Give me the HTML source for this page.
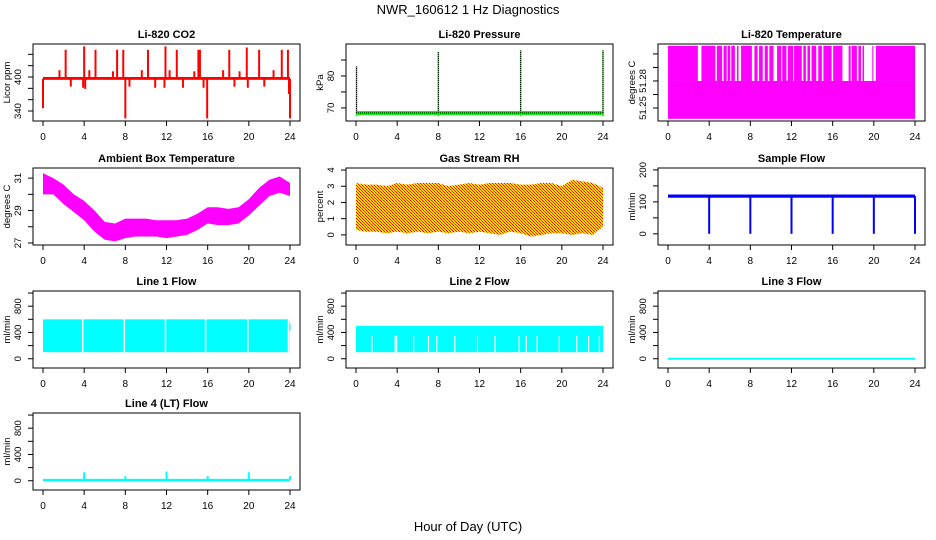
<!DOCTYPE html>
<html><head><meta charset="utf-8"><style>
html,body{margin:0;padding:0;background:#fff;}
svg{display:block;font-family:"Liberation Sans",sans-serif;}
</style></head><body>
<svg id="fig" width="936" height="540" viewBox="0 0 936 540">
<defs>
<pattern id="rhpat" width="3" height="3" patternUnits="userSpaceOnUse">
<rect width="3" height="3" fill="#ffdd00"/><rect width="1" height="1" fill="#ff0000"/><rect x="1" y="1" width="1" height="1" fill="#ff3300"/><rect x="2" y="2" width="1" height="1" fill="#ff0000"/>
</pattern>
</defs>
<text x="468" y="14" font-size="13" text-anchor="middle">NWR_160612  1 Hz Diagnostics</text>
<text x="468" y="531" font-size="13" text-anchor="middle">Hour of Day (UTC)</text>
</svg>
<script>
// ---------- data ----------
const hourTicks = [0,4,8,12,16,20,24];
const co2Base = 397;
const co2UpHours = [2.2,4.0,5.1,7.2,7.8,10.2,11.9,13.0,15.1,15.25,18.1,19.8,21.0,23.2,23.8,1.6,4.5,6.8,9.6,12.3,14.7,17.5,19.1,22.4];
const co2UpValues = [448,454,448,448,448,448,454,448,448,448,448,452,448,448,448,412,412,410,412,412,410,412,410,412];
const co2DownHours = [8.0,15.95,24.0,0.0,2.7,3.9,4.1,8.4,10.9,11.8,13.6,15.6,18.6,19.9,21.5,23.9];
const co2DownValues = [327,327,327,345,383,381,379,383,381,381,381,381,383,381,383,370];
const presBase = 68.4;
const presSpikeHours = [0.05,8.0,16.0,24.0];
const presSpikeValues = [83,87.5,88,88];
const tempLow = 51.238, tempMid = 51.28, tempHigh = 51.319;
const tempGapStart = [2.9,4.6,5.25,5.7,6.05,6.5,6.85,8.15,8.7,9.2,9.7,10.25,11.0,11.5,12.15,13.0,13.4,13.8,14.4,14.95,15.9,16.95,17.75,18.35,18.75,19.05,19.95];
const tempGapEnd   = [3.25,4.75,5.4,5.8,6.15,6.7,7.1,8.4,8.85,9.4,9.85,10.6,11.1,11.65,12.25,13.15,13.55,13.95,14.6,15.1,16.05,17.55,17.85,18.5,18.9,19.85,20.2];
const ambHours = [0,1,2,3,4,5,6,7,8,9,10,11,12,13,14,15,16,17,18,19,20,21,22,23,24];
const ambLow  = [30.0,30.0,29.4,28.9,28.4,27.7,27.2,27.1,27.3,27.4,27.4,27.4,27.3,27.4,27.5,27.8,28.2,28.1,28.1,28.2,28.7,29.3,29.9,30.1,29.9];
const ambHigh = [31.3,31.0,30.6,30.0,29.6,29.0,28.3,28.2,28.5,28.5,28.5,28.4,28.4,28.4,28.5,28.8,29.2,29.2,29.1,29.2,29.7,30.4,30.9,31.1,30.7];
const rhHours = [0,1,2,3,4,5,6,7,8,9,10,11,12,13,14,15,16,17,18,19,20,21,22,23,24];
const rhLow  = [0.3,0.2,0.2,0.1,0.2,0.1,0.2,0.1,0.2,0.1,0.2,0.1,0.2,0.1,0.0,0.2,0.1,-0.1,0.0,0.1,0.1,0.0,0.1,0.0,0.5];
const rhHigh = [3.2,3.1,3.1,3.0,3.2,3.1,3.2,3.2,3.2,3.0,3.1,3.2,3.1,3.2,3.2,3.2,3.1,3.1,3.2,3.2,3.0,3.4,3.3,3.2,2.9];
const sampleBase = 118;
const sampleDropHours = [4,8,12,16,20,24];
const sampleDropValues = [0,0,0,0,0,0];
const line1Low = 100, line1High = 600;
const line1GapHours = [3.86,7.9,11.9,15.8,19.9,23.85];
const line2Low = 100, line2High = 500;
const line2GapHours = [1.55,3.8,3.95,5.6,7.05,7.85,9.6,11.8,13.5,15.85,16.55,17.6,19.75,21.45,22.6,23.65];
const line3Value = 0;
const line4Base = 10;
const line4SpikeHours = [4,8,12,16,20,24];
const line4SpikeValues = [130,70,140,70,130,70];

// ---------- layout ----------
const svg = document.getElementById('fig');
const NS = 'http://www.w3.org/2000/svg';
const colLeft = [33,346,658], boxW = 267;
const rowTop = [44,168,291,413], boxH = 77;
function el(tag, attrs, parent){const e=document.createElementNS(NS,tag);for(const k in attrs)e.setAttribute(k,attrs[k]);(parent||svg).appendChild(e);return e;}

function panel(c, r, title, ylab, ymin, ymax, yticks, ylabels, name){
  const L=colLeft[c], T=rowTop[r], B=T+boxH;
  const g = el('g',{});
  
  
  const xs = h => L+10 + h*(boxW-20)/24;
  const ys = v => B - (v-ymin)/(ymax-ymin)*boxH;
  const t = el('text',{x:L+boxW/2,y:T-6,'font-size':11,'font-weight':'bold','text-anchor':'middle'},g);
  t.textContent = title;
  
  
  const data = el('g',{},g);
  
  
  const box = el('rect',{x:L,y:T,width:boxW,height:boxH,fill:'none',stroke:'#000','stroke-width':1},g);
  
  
  const xa = el('g',{},g);
  
  
  el('line',{x1:xs(0),x2:xs(24),y1:B,y2:B,stroke:'#000'},xa);
  hourTicks.forEach(h=>{
    el('line',{x1:xs(h),x2:xs(h),y1:B,y2:B+5,stroke:'#000'},xa);
    const tl = el('text',{x:xs(h),y:B+19,'font-size':10,'text-anchor':'middle'},xa);
    tl.textContent = h;
  });
  const ya = el('g',{},g);
  
  
  el('line',{x1:L,x2:L,y1:ys(yticks[0]),y2:ys(yticks[yticks.length-1]),stroke:'#000'},ya);
  yticks.forEach((v,i)=>{
    el('line',{x1:L-5,x2:L,y1:ys(v),y2:ys(v),stroke:'#000'},ya);
    if(ylabels[i]){
      const tl = el('text',{x:L-12,y:ys(v),'font-size':9.5,'text-anchor':'middle',transform:`rotate(-90 ${L-12} ${ys(v)})`},ya);
      tl.textContent = ylabels[i];
    }
  });
  const yt = el('text',{x:L-23,y:(T+B)/2,'font-size':9.5,'text-anchor':'middle',transform:`rotate(-90 ${L-23} ${(T+B)/2})`},g);
  yt.textContent = ylab;
  
  
  return {xs, ys, g:data};
}
function vline(p,h,v1,v2,color,w){el('line',{x1:p.xs(h),x2:p.xs(h),y1:p.ys(v1),y2:p.ys(v2),stroke:color,'stroke-width':w||1.5},p.g);}
function band(p,x0,x1,lo,hi,fill){el('rect',{x:p.xs(x0),y:p.ys(hi),width:p.xs(x1)-p.xs(x0),height:p.ys(lo)-p.ys(hi),fill:fill},p.g);}

// CO2
let p = panel(0,0,'Li-820 CO2','Licor ppm',322.4,458.2,[340,360,380,400,420,440],['340','','','400','',''],'co2');
band(p,0,24,co2Base-2,co2Base+3,'#ff0000');
co2UpHours.forEach((h,i)=>vline(p,h,co2Base,co2UpValues[i],'#ff0000',2));
co2DownHours.forEach((h,i)=>vline(p,h,co2Base,co2DownValues[i],'#ff0000',2));
// Pressure
p = panel(1,0,'Li-820 Pressure','kPa',65.9,90,[70,75,80,85],['70','','80',''],'pressure');
band(p,0,24,presBase-0.6,presBase+0.6,'#00ee00');
el('line',{x1:p.xs(0),x2:p.xs(24),y1:p.ys(presBase),y2:p.ys(presBase),stroke:'#000','stroke-dasharray':'1 1'},p.g);
presSpikeHours.forEach((h,i)=>{vline(p,h,presBase-1,presSpikeValues[i],'#00ee00',1.5);el('line',{x1:p.xs(h),x2:p.xs(h),y1:p.ys(presBase),y2:p.ys(presSpikeValues[i]),stroke:'#000','stroke-dasharray':'1 1'},p.g);});
// Li temperature
p = panel(2,0,'Li-820 Temperature','degrees C',51.2356,51.321,[51.25,51.265,51.28,51.295,51.31],['51.25','','51.28','',''],'li820-temp');
band(p,0,24,tempLow,tempMid,'#ff00ff');
let prev = 0;
tempGapStart.forEach((s,i)=>{band(p,prev,s,tempMid,tempHigh,'#ff00ff');prev=tempGapEnd[i];});
band(p,prev,24,tempMid,tempHigh,'#ff00ff');
// Ambient
p = panel(0,1,'Ambient Box Temperature','degrees C',26.875,31.625,[27,28,29,30,31],['27','','29','','31'],'ambient-temp');
{let pts=ambHours.map((h,i)=>p.xs(h)+','+p.ys(ambHigh[i])).concat(ambHours.slice().reverse().map((h,i)=>p.xs(h)+','+p.ys(ambLow[ambHours.length-1-i])));
el('polygon',{points:pts.join(' '),fill:'#ff00ff'},p.g);}
// RH
p = panel(1,1,'Gas Stream RH','percent',-0.625,4.125,[0,1,2,3,4],['0','1','2','3','4'],'gas-rh');
{let pts=rhHours.map((h,i)=>p.xs(h)+','+p.ys(rhHigh[i])).concat(rhHours.slice().reverse().map((h,i)=>p.xs(h)+','+p.ys(rhLow[rhHours.length-1-i])));
el('polygon',{points:pts.join(' '),fill:'url(#rhpat)'},p.g);}
// Sample flow
p = panel(2,1,'Sample Flow','ml/min',-35,206,[0,50,100,150,200],['0','','100','','200'],'sample-flow');
band(p,0,24,sampleBase-5,sampleBase+5,'#0000ff');
sampleDropHours.forEach((h,i)=>vline(p,h,sampleBase,sampleDropValues[i],'#0000ff',2));
// Line 1
const fyt=[0,200,400,600,800,1000], fyl=['0','','400','','800',''];
p = panel(0,2,'Line 1 Flow','ml/min',-141,1031,fyt,fyl,'line1-flow');
band(p,0,23.95,line1Low,line1High,'#00ffff');
line1GapHours.forEach(h=>vline(p,h,line1Low,line1High+30,'#ffffff',1.5));
band(p,23.95,24.05,430,540,'#00ffff');
// Line 2
p = panel(1,2,'Line 2 Flow','ml/min',-141,1031,fyt,fyl,'line2-flow');
band(p,0,24,line2Low,line2High,'#00ffff');
line2GapHours.forEach(h=>vline(p,h,line2Low,line2High-150,'#ffffff',1.2));
// Line 3
p = panel(2,2,'Line 3 Flow','ml/min',-141,1031,fyt,fyl,'line3-flow');
el('line',{x1:p.xs(0),x2:p.xs(24),y1:p.ys(line3Value),y2:p.ys(line3Value),stroke:'#00ffff','stroke-width':2},p.g);
// Line 4
p = panel(0,3,'Line 4 (LT) Flow','ml/min',-141,1031,fyt,fyl,'line4-flow');
el('line',{x1:p.xs(0),x2:p.xs(24),y1:p.ys(line4Base),y2:p.ys(line4Base),stroke:'#00ffff','stroke-width':2.5},p.g);
line4SpikeHours.forEach((h,i)=>vline(p,h,line4Base,line4SpikeValues[i],'#00ffff',2));
</script>
</body></html>
